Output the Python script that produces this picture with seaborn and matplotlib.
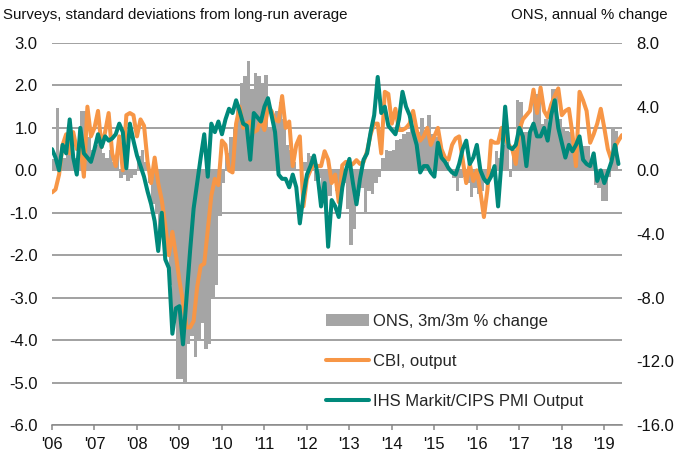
import numpy as np
import pandas as pd
import matplotlib
matplotlib.use("Agg")
import matplotlib.pyplot as plt
import seaborn as sns

# ---------------- data (monthly from Jan 2006) ----------------
start_month = "2006-01-01"

# ONS manufacturing output, 3m/3m % change (right axis)
ons_3m3m = [
    0.7, 3.9, 0.9, 0.8, 1.2, 1.6, 0.8, 1.3, 3.7, 3.7, 2.1, 1.3,
    1.6, 2.4, 1.1, 0.8, 1.3, 0.5, 1.1, -0.5, -0.3, -0.7, -0.5, -0.3,
    0.9, 1.3, 0.5, -0.8, -2.1, -2.7, -4.0, -3.7, -5.3, -7.2, -9.3, -13.1,
    -13.1, -13.3, -10.9, -10.4, -11.7, -10.7, -9.6, -11.2, -10.9, -8.0, -7.2, -2.9,
    -0.8, 1.1, 2.1, 2.7, 4.0, 5.5, 5.9, 6.9, 5.1, 6.1, 5.9, 5.5,
    6.0, 2.7, 3.2, 3.7, 4.3, 3.2, 1.6, 1.3, 0.5, 0.1, 0.8, 0.5,
    1.1, 0.9, -0.7, -0.5, -1.3, -3.2, -1.6, -0.8, -1.3, -1.2, -0.8, -2.4,
    -4.7, -3.7, -1.6, -1.1, -2.7, -1.3, -1.5, -0.8, -0.4, 0.8, 1.3, 1.2,
    1.3, 1.9, 2.0, 2.3, 2.4, 3.3, 2.7, 2.4, 3.3, 2.4, 3.5, 2.3,
    2.1, 1.6, 0.8, 0.5, 0.0, -0.5, -1.3, -0.5, -0.4, -0.8, -1.7, -1.1,
    -1.5, -1.3, -0.8, -0.5, -0.4, 1.2, 0.8, 1.6, 2.5, -0.4, 1.3, 4.4,
    4.3, 2.4, 2.4, 2.7, 4.8, 4.8, 2.9, 3.2, 2.7, 5.1, 5.1, 3.2,
    2.7, 2.5, 2.4, 1.9, 1.6, 1.3, 1.5, 1.5, 0.5, -0.9, -1.1, -1.9,
    -1.9, -0.4, 2.7, 2.5,
]

# CBI output, standard deviations from long-run average (left axis)
cbi_output = [
    -0.52, -0.45, -0.1, 0.6, 0.85, 0.4, 0.9, 0.5, 0.6, -0.15, 1.5, 0.8,
    1.0, 1.4, 0.55, 0.9, 1.35, 0.4, 0.1, 0.8, 0.0, 1.3, 1.35, 1.3,
    0.8, 1.2, 1.05, 0.2, -0.3, 0.3, -0.3, -0.7, -1.3, -2.0, -1.45, -2.0,
    -2.6, -3.1, -3.7, -3.7, -3.55, -2.75, -2.25, -2.2, -1.4, -0.6, -0.2, -0.35,
    0.7, 0.6, 0.0, -0.05, 1.1, 1.5, 1.0, 1.1, 1.15, 0.9, 0.95, 1.2,
    0.95, 1.5, 1.4, 1.2, 1.15, 1.75, 1.0, 1.15, 0.1, 0.6, 0.8, -0.85,
    -0.2, 0.0, 0.15, 0.1, 0.1, 0.45, 0.25, -0.3, -0.1, -0.75, 0.12, 0.2,
    0.1, 0.15, 0.24, 0.15, 0.2, 0.45, 0.85, 1.1, 1.1, 0.4, 1.85, 1.8,
    1.1, 1.45, 0.95, 0.95, 1.0, 1.1, 1.4, 0.95, 0.7, 0.8, 1.0, 0.6,
    0.8, 1.0, 0.5, 0.3, 0.25, 0.6, 0.75, 0.8, 0.25, -0.3, 0.15, -0.25,
    0.0, -0.5, -1.1, -0.45, 0.7, 0.65, 0.65, 1.0, 0.75, 0.6, 0.5, 0.15,
    0.95, 1.2, 1.3, 1.4, 1.9, 1.35, 1.95, 1.4, 1.25, 1.55, 1.75, 1.93,
    1.3, 1.4, 1.45, 0.86, 0.1, 1.85, 1.65, 1.4, 0.65, 0.85, 1.1, 1.45,
    1.0, 0.5, 0.25, 0.55, 0.7, 0.83,
]

# IHS Markit/CIPS PMI output, standard deviations from long-run average (left axis)
pmi_output = [
    0.5, 0.3, 0.0, 0.6, 0.4, 1.2, 0.3, -0.1, 1.0, 0.4, 0.3, 0.2,
    0.5, 0.85, 0.55, 0.8, 0.7, 0.75, 0.85, 1.1, 0.9, 0.05, 1.1, 0.7,
    0.35, 0.1, -0.15, -0.5, -0.8, -1.2, -1.9, -1.0, -2.1, -2.3, -3.85, -3.25,
    -3.2, -4.1, -3.0, -1.9, -0.9, -0.3, 0.3, 0.85, -0.15, 1.1, 0.9, 1.15,
    0.85, 1.2, 1.45, 1.35, 1.65, 1.4, 1.1, 1.05, 0.25, 1.35, 1.25, 1.15,
    1.5, 1.7, 1.3, 0.9, -0.1, -0.2, -0.2, -0.4, -0.1, -0.4, -1.25, -0.6,
    -0.1, 0.1, 0.35, -0.1, -0.85, -0.3, -1.8, -0.7, -0.85, -1.1, -0.4, 0.0,
    0.27, -0.3, -0.8, -0.2, 0.25, 0.4, 0.9, 1.3, 2.2, 1.35, 1.5, 1.05,
    0.95, 0.85, 1.2, 1.85, 1.5, 1.3, 0.9, 0.6, -0.05, 0.1, 0.1, -0.05,
    -0.15, 0.65, 0.3, 0.2, 0.05, -0.05, -0.1, 0.15, 0.5, 0.7, 0.15, 0.3,
    0.6, 0.0, -0.2, -0.3, -0.15, 0.1, -0.85, 0.25, 1.5, 0.55, 0.5, 0.6,
    1.0, 0.8, 0.1, 0.9, 1.1, 0.8, 0.8, 1.0, 0.7, 1.3, 1.65, 1.0,
    0.65, 0.3, 0.6, 0.45, 0.6, 0.8, 0.25, 0.15, 0.1, 0.4, -0.25, 0.0,
    -0.3, -0.05, 0.2, 0.6, 0.15,
]

year_ticks = list(range(2006, 2020))
year_labels = ["'06", "'07", "'08", "'09", "'10", "'11", "'12",
               "'13", "'14", "'15", "'16", "'17", "'18", "'19"]

left_ticks = [3.0, 2.0, 1.0, 0.0, -1.0, -2.0, -3.0, -4.0, -5.0, -6.0]
right_ticks = [8.0, 4.0, 0.0, -4.0, -8.0, -12.0, -16.0]

label_ons = "ONS, 3m/3m % change"
label_cbi = "CBI, output"
label_pmi = "IHS Markit/CIPS PMI Output"
title_left = "Surveys, standard deviations from long-run average"
title_right = "ONS, annual % change"


def dec_year(n, offset=0.0):
    d = pd.date_range(start_month, periods=n, freq="MS")
    return d.year + (d.month - 1) / 12 + offset


df_ons = pd.DataFrame({"x": dec_year(len(ons_3m3m), 1 / 24), "y": ons_3m3m})
df_cbi = pd.DataFrame({"x": dec_year(len(cbi_output)), "y": cbi_output})
df_pmi = pd.DataFrame({"x": dec_year(len(pmi_output)), "y": pmi_output})

# ---------------- style ----------------
sns.set_style("white")
plt.rcParams["font.family"] = ["Liberation Sans", "DejaVu Sans"]

GRID = "#888888"
BAR = "#A5A5A5"
ORANGE = "#F79646"
TEAL = "#00897B"

fig = plt.figure(figsize=(6.78, 4.70), dpi=100)
ax = fig.add_axes([52 / 678, 1 - 425 / 470, 570 / 678, 382 / 470])
ax_b = ax.twinx()
ax_l = ax.twinx()

# bars (right axis)
sns.barplot(data=df_ons, x="x", y="y", native_scale=True, ax=ax_b,
            color=BAR, saturation=1, width=1.0, errorbar=None,
            linewidth=0, label=label_ons)

# lines (left scale)
sns.lineplot(data=df_cbi, x="x", y="y", ax=ax_l, color=ORANGE, lw=2.9,
             label=label_cbi)
sns.lineplot(data=df_pmi, x="x", y="y", ax=ax_l, color=TEAL, lw=2.9,
             label=label_pmi)

xmax = 2006 + 161 / 12
for a in (ax, ax_b, ax_l):
    a.set_xlim(2006, xmax)
    a.set_xlabel("")
    a.set_ylabel("")
    for s in a.spines.values():
        s.set_visible(False)

# left axis / grid
ax.set_ylim(-6, 3)
ax.set_yticks(left_ticks)
ax.set_yticklabels([f"{v:.1f}" for v in left_ticks])
ax.grid(axis="y", color=GRID, lw=1.1)
ax.grid(axis="x", visible=False)
ax.tick_params(axis="y", length=0, pad=10.5, labelsize=12, labelcolor="#111111")
ax.spines["bottom"].set_visible(True)
ax.spines["bottom"].set_color(GRID)
ax.spines["bottom"].set_linewidth(1.1)
ax.set_xticks(year_ticks)
ax.set_xticklabels(year_labels)
ax.tick_params(axis="x", length=3.5, width=1.1, color=GRID, pad=5,
               labelsize=12, labelcolor="#111111", bottom=True)

# right axis
ax_b.set_ylim(-16, 8)
ax_b.set_yticks(right_ticks)
ax_b.set_yticklabels([f"{v:.1f}" for v in right_ticks])
ax_b.tick_params(axis="y", length=0, pad=10.5, labelsize=12, labelcolor="#111111")
ax_b.grid(False)
ax_b.xaxis.set_visible(False)
if ax_b.get_legend():
    ax_b.get_legend().remove()

# line axis
ax_l.set_ylim(-6, 3)
ax_l.set_yticks([])
ax_l.grid(False)
ax_l.xaxis.set_visible(False)

h1, l1 = ax_b.get_legend_handles_labels()
h2, l2 = ax_l.get_legend_handles_labels()
leg = ax_l.legend(h1 + h2, l1 + l2, loc="upper left",
                  bbox_to_anchor=((326 - 52) / 570, (425 - 314) / 382),
                  frameon=False, fontsize=12, handlelength=2.55,
                  handleheight=0.7, handletextpad=0.25, labelspacing=1.5,
                  borderpad=0, borderaxespad=0)

fig.text(3 / 678, 1 - 15 / 470, title_left, ha="left", va="center",
         fontsize=10.8, color="#111111")
fig.text(668 / 678, 1 - 15 / 470, title_right, ha="right", va="center",
         fontsize=10.8, color="#111111")

fig.savefig("out.png", dpi=100)
